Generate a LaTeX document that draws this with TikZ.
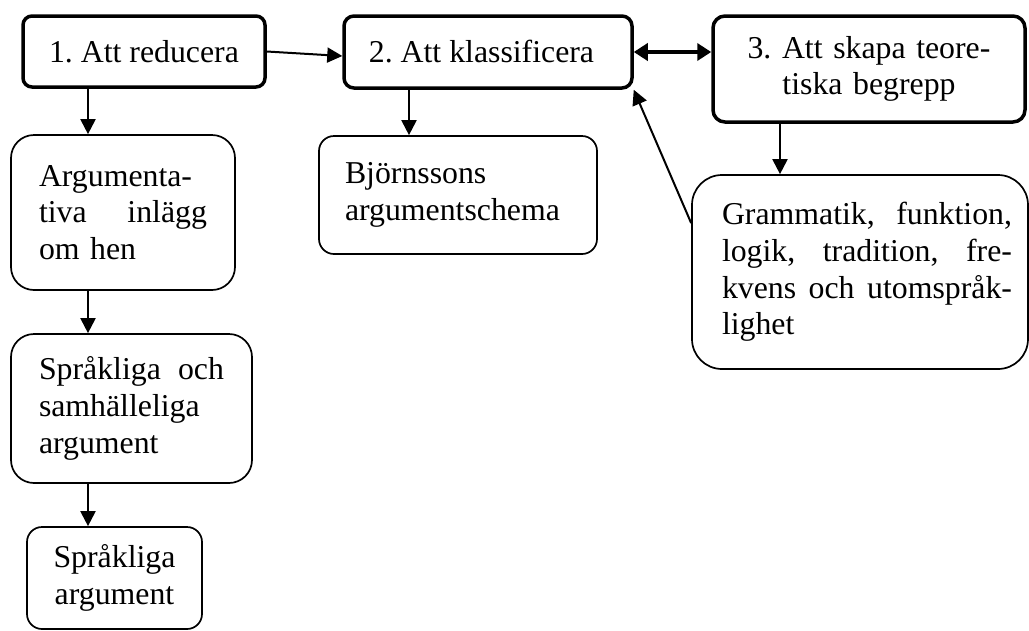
\documentclass[tikz,border=0pt]{standalone}
\usepackage{fontspec}
\setmainfont{Liberation Serif}
\usetikzlibrary{arrows.meta,calc}
\begin{document}
\begin{tikzpicture}[x=1pt,y=-1pt,
  every node/.style={font=\fontsize{31.8}{36.7}\selectfont\frenchspacing, inner sep=0pt},
  thickbox/.style={draw, line width=3.5pt, rectangle},
  thinbox/.style={draw, line width=1.7pt, rectangle},
  arr/.style={line width=2pt, -{Triangle[length=15pt,width=15pt]}},
  darr/.style={line width=3.5pt, {Triangle[length=14pt,width=17pt]}-{Triangle[length=14pt,width=17pt]}}
]
\useasboundingbox (0,0) rectangle (1029,630);
% top row
\node[thickbox, rounded corners=9pt, minimum width=242pt, minimum height=71pt] (n1) at (144,51.5) {1. Att reducera};
\node[thickbox, rounded corners=10pt, minimum width=288pt, minimum height=72pt] (n2) at (488,52) {\hspace*{-13pt}2. Att klassificera};
\node[thickbox, rounded corners=12pt, minimum width=312pt, minimum height=106pt, text width=300pt, align=center] (n3) at (869,69) {3. Att skapa teore-\\tiska begrepp};
% left column
\node[thinbox, rounded corners=23pt, minimum width=224pt, minimum height=155pt, text width=168pt, align=left] (a) at (123,212.5) {Argumenta-\\\makebox[168pt]{tiva\hfill inlägg}\\om hen};
\node[thinbox, rounded corners=23pt, minimum width=241pt, minimum height=149pt, text width=185pt, align=left] (b) at (131.5,408.5) {\makebox[185pt]{Språkliga\hfill och}\\samhälleliga\\argument};
\node[thinbox, rounded corners=15pt, minimum width=175pt, minimum height=102pt, text width=170pt, align=center] (c) at (114.5,578) {Språkliga\\argument};
% middle
\node[thinbox, rounded corners=15pt, minimum width=278pt, minimum height=118pt, text width=226pt, align=left] (d) at (458,195) {Björnssons\\argumentschema};
% right
\node[thinbox, rounded corners=30pt, minimum width=336pt, minimum height=194pt, text width=304pt, align=left] (e) at (860,272) {\hspace*{14pt}\makebox[290pt]{Grammatik,\hfill funktion,}\\\hspace*{14pt}\makebox[290pt]{logik,\hfill tradition,\hfill fre-}\\\hspace*{14pt}\makebox[290pt]{kvens\hfill och\hfill utomspråk-}\\\hspace*{14pt}lighet};
% column coordinates
\coordinate (colL) at (88,0);
\coordinate (colD) at (409,0);
\coordinate (colE) at (780,0);
% connectors
\draw[arr] (n1.east) -- ([yshift=-4pt]n2.west);
\draw[darr] (n2.east) -- (n2.east -| n3.west);
\draw[arr] (colL |- n1.south) -- (colL |- a.north);
\draw[arr] (colL |- a.south) -- (colL |- b.north);
\draw[arr] (colL |- b.south) -- (colL |- c.north);
\draw[arr] (colD |- n2.south) -- (colD |- d.north);
\draw[arr] (colE |- n3.south) -- (colE |- e.north);
\draw[arr] ($(e.north west)!0.25!(e.south west)$) -- (n2.south east);
\end{tikzpicture}
\end{document}
